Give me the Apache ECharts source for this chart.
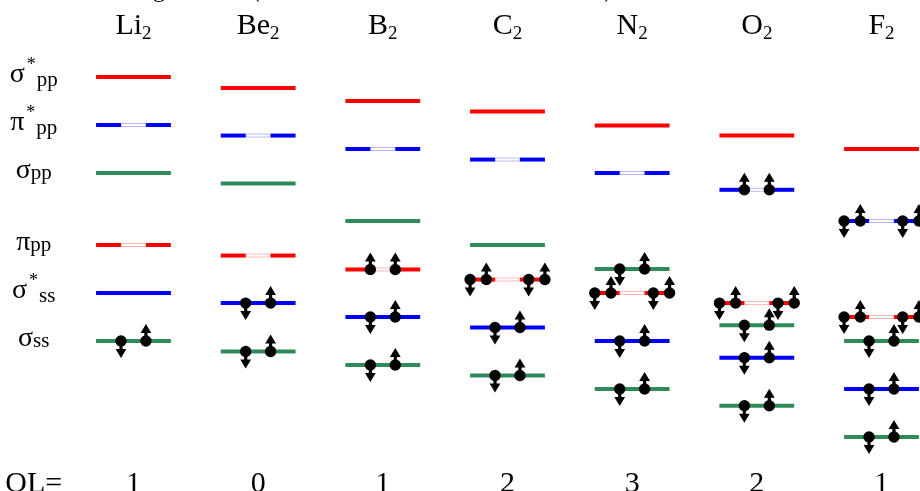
<!DOCTYPE html>
<html><head><meta charset="utf-8">
<script src="https://cdn.jsdelivr.net/npm/echarts@6/dist/echarts.min.js"></script>
<style>html,body{margin:0;padding:0;background:#fff}#c{width:920px;height:491px}</style>
</head><body><div id="c"></div>
<script>
// ---------- data ----------
const molecules = ['Li', 'Be', 'B', 'C', 'N', 'O', 'F'];
const bondOrder = [1, 0, 1, 2, 3, 2, 1];
const titleText = 'MO diagrams for (homonuclear second row molecules)';
// orbitals, top to bottom
const orbitalSymbol = ['σ', 'π', 'σ', 'π', 'σ', 'σ'];
const orbitalStar = [true, true, false, false, true, false];
const orbitalSub = ['pp', 'pp', 'pp', 'pp', 'ss', 'ss'];
const orbitalDegenerate = [false, true, false, true, false, false];
// energies (arbitrary units) per molecule
const E_sigmaPPstar = [5.5, 5.27, 5.0, 4.78, 4.49, 4.28, 4.0];
const E_piPPstar    = [4.5, 4.28, 4.0, 3.78, 3.5, 3.15, 2.5];
const E_sigmaPP     = [3.5, 3.28, 2.5, 2.0, 1.5, 0.33, 0.0];
const E_piPP        = [2.0, 1.78, 1.49, 1.28, 1.0, 0.79, 0.5];
const E_sigmaSSstar = [1.0, 0.79, 0.5, 0.28, 0.0, -0.35, -1.0];
const E_sigmaSS     = [0.0, -0.22, -0.5, -0.72, -1.0, -1.35, -2.0];
// electrons per orbital per molecule
const N_sigmaPPstar = [0, 0, 0, 0, 0, 0, 0];
const N_piPPstar    = [0, 0, 0, 0, 0, 2, 4];
const N_sigmaPP     = [0, 0, 0, 0, 2, 2, 2];
const N_piPP        = [0, 0, 2, 4, 4, 4, 4];
const N_sigmaSSstar = [0, 2, 2, 2, 2, 2, 2];
const N_sigmaSS     = [2, 2, 2, 2, 2, 2, 2];

// ---------- styles ----------
const FONT = 'Liberation Serif';
const orbitalColor = ['#ff0000', '#0000ff', '#2e8b57', '#ff0000', '#0000ff', '#2e8b57'];
const orbitalLight = ['#ffb8b8', '#b8b8ff', '#a8d8bc', '#ffb8b8', '#b8b8ff', '#a8d8bc'];

const energies = [E_sigmaPPstar, E_piPPstar, E_sigmaPP, E_piPP, E_sigmaSSstar, E_sigmaSS];
const electrons = [N_sigmaPPstar, N_piPPstar, N_sigmaPP, N_piPP, N_sigmaSSstar, N_sigmaSS];

const levelData = [];
const electronData = [];
molecules.forEach((m, i) => {
  energies.forEach((arr, j) => {
    levelData.push([i + 1, arr[i], j]);
    const n = electrons[j][i];
    let slots = [];
    if (n === 2 && !orbitalDegenerate[j]) slots = [[-0.1, -1], [0.1, 1]];
    else if (n === 2) slots = [[-0.1, 1], [0.1, 1]];
    else if (n === 4) slots = [[-0.3, -1], [-0.17, 1], [0.17, -1], [0.3, 1]];
    slots.forEach(s => electronData.push([i + 1 + s[0], arr[i], s[1]]));
  });
});

const mctx = document.createElement('canvas').getContext('2d');
function tw(t, size) { mctx.font = size + 'px "' + FONT + '"'; return mctx.measureText(t).width; }
function pieces(cx, cy, list) {
  let total = 0;
  list.forEach(p => { total += tw(p.t, p.s) + (p.gap || 0); });
  let x = cx - total / 2;
  return list.map(p => {
    x += (p.gap || 0);
    const el = { type: 'text', x: x, y: cy + (p.dy || 0),
      style: { text: p.t, fontSize: p.s, fontFamily: FONT, fill: '#000', align: 'left', verticalAlign: 'middle' } };
    x += tw(p.t, p.s);
    return el;
  });
}

const chart = echarts.init(document.getElementById('c'), null, { renderer: 'canvas' });
chart.setOption({
  animation: false,
  backgroundColor: '#fff',
  grid: { left: 8.8, right: 38.5, top: 5, bottom: 6 },
  xAxis: { type: 'value', min: 0, max: 7, show: false },
  yAxis: { type: 'value', min: -3, max: 7, show: false },
  graphic: [{ type: 'text', x: 79, y: -9.5, z: 10,
    style: { text: titleText, fontSize: 24, fontFamily: FONT, fill: '#000', align: 'left', verticalAlign: 'middle' } }],
  series: [
    { type: 'custom', z: 2, clip: false, data: levelData,
      renderItem: (params, api) => {
        const x = api.value(0), e = api.value(1), j = api.value(2);
        const l = api.coord([x - 0.3, e]), a = api.coord([x - 0.1, e]),
              b = api.coord([x + 0.1, e]), r = api.coord([x + 0.3, e]);
        const h = 4, y = l[1] - h / 2;
        if (!orbitalDegenerate[j]) {
          return { type: 'rect', shape: { x: l[0], y: y, width: r[0] - l[0], height: h }, style: { fill: orbitalColor[j] } };
        }
        return { type: 'group', children: [
          { type: 'rect', shape: { x: a[0], y: y + 0.5, width: b[0] - a[0], height: h - 1 }, style: { fill: '#fff', stroke: orbitalLight[j], lineWidth: 1 } },
          { type: 'rect', shape: { x: l[0], y: y, width: a[0] - l[0], height: h }, style: { fill: orbitalColor[j] } },
          { type: 'rect', shape: { x: b[0], y: y, width: r[0] - b[0], height: h }, style: { fill: orbitalColor[j] } }
        ] };
      } },
    { type: 'custom', z: 3, clip: false, data: electronData,
      renderItem: (params, api) => {
        const c = api.coord([api.value(0), api.value(1)]);
        const s = api.value(2) > 0 ? -1 : 1; // up -> negative pixel direction
        return { type: 'group', children: [
          { type: 'line', shape: { x1: c[0], y1: c[1], x2: c[0], y2: c[1] + s * 10 }, style: { stroke: '#000', lineWidth: 3.2 } },
          { type: 'polygon', shape: { points: [[c[0], c[1] + s * 17], [c[0] - 5.4, c[1] + s * 8], [c[0] + 5.4, c[1] + s * 8]] }, style: { fill: '#000' } },
          { type: 'circle', shape: { cx: c[0], cy: c[1], r: 5.7 }, style: { fill: '#000' } }
        ] };
      } },
    { type: 'custom', z: 4, clip: false, data: molecules.map((m, i) => [i + 1, bondOrder[i]]),
      renderItem: (params, api) => {
        const i = params.dataIndex;
        const cx = api.coord([api.value(0), 0])[0];
        const ch = pieces(cx, 26, [{ t: molecules[i], s: 30 }, { t: '2', s: 19, dy: 8 }])
          .concat(pieces(cx, 484, [{ t: String(bondOrder[i]), s: 30 }]));
        if (i === 0) ch.push.apply(ch, pieces(api.coord([0.2, 0])[0], 484, [{ t: 'OL=', s: 30 }]));
        return { type: 'group', children: ch };
      } },
    { type: 'custom', z: 4, clip: false, data: orbitalSymbol.map((s, j) => [0.2, energies[j][0], j]),
      renderItem: (params, api) => {
        const j = api.value(2);
        const p = api.coord([api.value(0), api.value(1)]);
        const list = orbitalStar[j]
          ? [{ t: orbitalSymbol[j], s: 28, dy: -2 }, { t: '*', s: 18, dy: -12, gap: 2 }, { t: orbitalSub[j], s: 21, dy: 3, gap: 1 }]
          : [{ t: orbitalSymbol[j], s: 28, dy: -2 }, { t: orbitalSub[j], s: 21, dy: 0 }];
        return { type: 'group', children: pieces(p[0], p[1], list) };
      } }
  ]
});
</script></body></html>
